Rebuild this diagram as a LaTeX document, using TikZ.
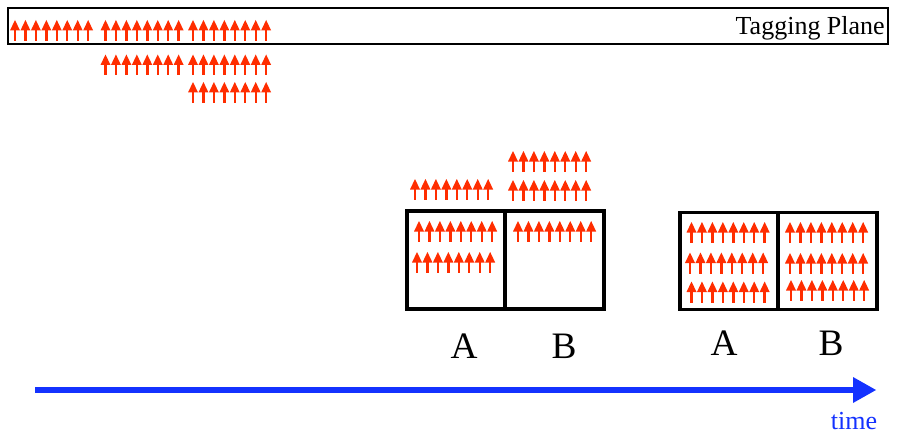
\documentclass[tikz,border=0pt]{standalone}
\usepackage{fontspec}
\setmainfont{Liberation Serif}
\definecolor{tagred}{RGB}{255,45,0}
\definecolor{timeblue}{RGB}{20,50,255}
\tikzset{
  tagrow/.pic={
    \foreach \i in {0,...,7}{
      \fill[tagred] ({\i*10.45-5},10.5) -- ({\i*10.45+5},10.5) -- ({\i*10.45},0) -- cycle;
      \fill[tagred] ({\i*10.45-1.2},9) rectangle ({\i*10.45+1.2},21);
    }
  },
  cellbox/.style={draw=black, line width=2.4pt},
  biglabel/.style={font=\fontsize{28}{30}\selectfont, inner sep=0pt},
  smalllabel/.style={font=\fontsize{19.5}{21}\selectfont, inner sep=0pt}
}
\begin{document}
\begin{tikzpicture}[x=0.75pt,y=-0.75pt]
\useasboundingbox (0,0) rectangle (903,435);
% tagging plane
\draw[line width=1.2pt] (8,8) rectangle (888,44);
\node[smalllabel, anchor=east] (tp) at (885,28) {Tagging Plane};
\pic at (15,20) {tagrow};
\pic at (105.5,20) {tagrow};
\pic at (193,20) {tagrow};
\pic at (105.5,54.5) {tagrow};
\pic at (193,54.5) {tagrow};
\pic at (193,82) {tagrow};
% middle group
\draw[cellbox] (407,211) rectangle (505,309);
\draw[cellbox] (505,211) rectangle (604,309);
\pic at (415,179) {tagrow};
\pic at (513,151) {tagrow};
\pic at (513,180) {tagrow};
\pic at (419,221) {tagrow};
\pic at (417,252) {tagrow};
\pic at (518,221) {tagrow};
\node[biglabel] (a1) at (464,346) {A};
\node[biglabel] (b1) at (564,346) {B};
% right group
\draw[cellbox] (680,212.5) rectangle (778,309.5);
\draw[cellbox] (778,212.5) rectangle (877,309.5);
\pic at (691.5,222) {tagrow};
\pic at (690,252.5) {tagrow};
\pic at (691.5,281.5) {tagrow};
\pic at (790,222) {tagrow};
\pic at (790,253) {tagrow};
\pic at (791,280) {tagrow};
\node[biglabel] (a2) at (724,343) {A};
\node[biglabel] (b2) at (831,343) {B};
% time axis
\coordinate (tstart) at (35,390);
\coordinate (tend) at (854,390);
\draw[timeblue, line width=4pt] (tstart) -- (tend);
\fill[timeblue] (853,377) -- (876,390) -- (853,403) -- cycle;
\node[smalllabel, text=timeblue, anchor=base] (time) at (854,429) {time};
\end{tikzpicture}
\end{document}
